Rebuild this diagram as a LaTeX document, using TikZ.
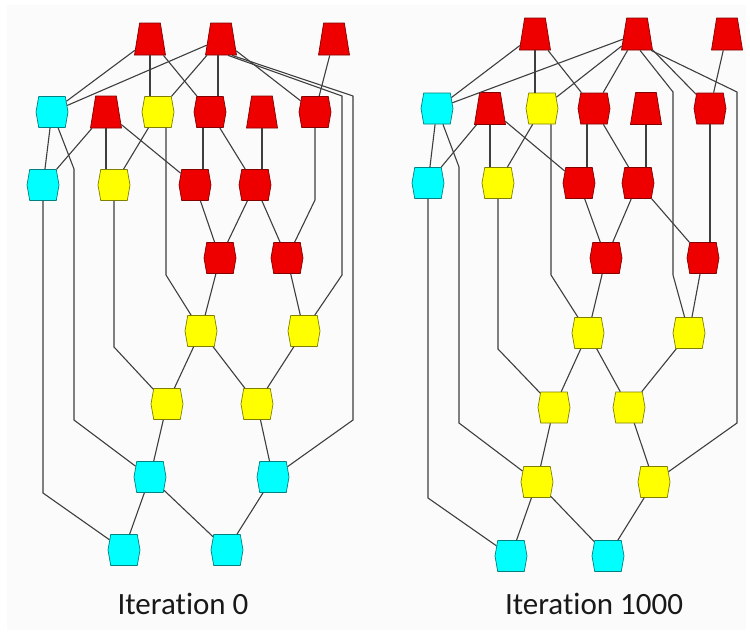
\documentclass[tikz,border=0pt]{standalone}
\usepackage{fontspec}
\setmainfont[Ligatures=NoCommon]{Carlito}
\usetikzlibrary{shapes.geometric,shapes.symbols}
\definecolor{nodered}{RGB}{238,0,0}
\definecolor{nodeyellow}{RGB}{255,255,0}
\definecolor{nodecyan}{RGB}{0,255,255}
\definecolor{linegray}{RGB}{62,62,62}
\definecolor{panelwhite}{RGB}{250,251,250}

\begin{document}
\begin{tikzpicture}[x=1pt,y=-1pt,
                    link/.style={draw=linegray,line width=1.1pt},
                    every edge/.style={link}]
  \tikzstyle{trap}=[trapezium,trapezium angle=76,trapezium stretches=true,
                    minimum width=31pt,minimum height=32pt,inner sep=1pt,
                    line width=0.7pt,fill=nodered,draw=nodered!55!black]
  \tikzstyle{hexa}=[signal,signal to=west and east,signal pointer angle=160,
                    minimum width=32pt,minimum height=31pt,inner sep=1pt,line width=0.7pt]
  \tikzstyle{red hex}=[hexa,fill=nodered,draw=nodered!55!black]
  \tikzstyle{yellow hex}=[hexa,fill=nodeyellow,draw=nodeyellow!50!black]
  \tikzstyle{cyan hex}=[hexa,fill=nodecyan,draw=nodecyan!50!black]
  \tikzstyle{caption}=[font=\fontsize{31}{36}\selectfont,text={rgb,255:red,25;green,25;blue,25},anchor=base]

  \useasboundingbox (0,0) rectangle (750,632);
  \fill[panelwhite] (7,5) rectangle (746,630);

  % Iteration 0
  \node[trap]       (lT1) at (150,39)  {};
  \node[trap]       (lT2) at (221,39)  {};
  \node[trap]       (lT3) at (334,39)  {};
  \node[cyan hex]   (lC1) at (52,112)  {};
  \node[trap]       (lT4) at (106,112) {};
  \node[yellow hex] (lY1) at (158,112) {};
  \node[red hex]    (lR1) at (210,112) {};
  \node[trap]       (lT5) at (262,112) {};
  \node[red hex]    (lR2) at (315,112) {};
  \node[cyan hex]   (lC2) at (43,185)  {};
  \node[yellow hex] (lY2) at (114,185) {};
  \node[red hex]    (lR3) at (195,185) {};
  \node[red hex]    (lR4) at (255,185) {};
  \node[red hex]    (lR5) at (220,258) {};
  \node[red hex]    (lR6) at (287,258) {};
  \node[yellow hex] (lY3) at (201,331) {};
  \node[yellow hex] (lY4) at (304,331) {};
  \node[yellow hex] (lY5) at (167,404) {};
  \node[yellow hex] (lY6) at (257,404) {};
  \node[cyan hex]   (lC3) at (150,477) {};
  \node[cyan hex]   (lC4) at (273,477) {};
  \node[cyan hex]   (lC5) at (124,550) {};
  \node[cyan hex]   (lC6) at (227,550) {};
  \node[caption]    (lCap) at (183,614) {Iteration 0};

  \path (lT1) edge (lC1) edge (lR1)
        (lT2) edge (lC1) edge (lY1) edge (lR2)
        (lT3) edge (lR2)
        (lC1) edge (lC2)
        (lT4) edge (lC2) edge (lR3)
        (lY1) edge (lY2)
        (lR1) edge (lR4)
        (lR3) edge (lR5)
        (lR4) edge (lR5) edge (lR6)
        (lR5) edge (lY3)
        (lR6) edge (lY4)
        (lY3) edge (lY5) edge (lY6)
        (lY4) edge (lY6)
        (lY5) edge (lC3)
        (lY6) edge (lC4)
        (lC3) edge (lC5) edge (lC6)
        (lC4) edge (lC6);
  \draw[link] (lT1) -- (lT1 |- lY1.north);
  \draw[link] ([xshift=-3pt]lT2.south) -- ([xshift=8pt]lR1.north);
  \draw[link] (lT4) -- (lT4 |- lY2.north);
  \draw[link] ([xshift=-7pt]lR1.south) -- ([xshift=8pt]lR3.north);
  \draw[link] (lT5) -- (lT5 |- lR4.north);
  \draw[link] ([xshift=7pt]lT2.south) -- (342,96) -- (342,275) -- (lY4);
  \draw[link] ([xshift=11pt]lT2.south) -- (353,96) -- (353,420) -- (lC4);
  \draw[link] (lC1) -- (74,169) -- (74,420) -- (lC3);
  \draw[link] ([xshift=8pt]lY1.south) -- (166,275) -- (lY3);
  \draw[link] (lY2) -- (114,347) -- (lY5);
  \draw[link] (lC2) -- (43,493) -- (lC5);
  \draw[link] (lR2) -- (315,200) -- (lR6);

  % Iteration 1000
  \node[trap]       (rT1) at (535,34)    {};
  \node[trap]       (rT2) at (637,34)    {};
  \node[trap]       (rT3) at (727,34)    {};
  \node[cyan hex]   (rC1) at (437,108.5) {};
  \node[trap]       (rT4) at (490,108.5) {};
  \node[yellow hex] (rY1) at (542,108.5) {};
  \node[red hex]    (rR1) at (594,108.5) {};
  \node[trap]       (rT5) at (646,108.5) {};
  \node[red hex]    (rR2) at (710,108.5) {};
  \node[cyan hex]   (rC2) at (428,183)   {};
  \node[yellow hex] (rY2) at (498,183)   {};
  \node[red hex]    (rR3) at (579,183)   {};
  \node[red hex]    (rR4) at (638,183)   {};
  \node[red hex]    (rR5) at (606,258)   {};
  \node[red hex]    (rR6) at (703,258)   {};
  \node[yellow hex] (rY3) at (588,333)   {};
  \node[yellow hex] (rY4) at (689,333)   {};
  \node[yellow hex] (rY5) at (554,407.5) {};
  \node[yellow hex] (rY6) at (629,407.5) {};
  \node[yellow hex] (rY7) at (537,482)   {};
  \node[yellow hex] (rY8) at (654,482)   {};
  \node[cyan hex]   (rC5) at (511,556)   {};
  \node[cyan hex]   (rC6) at (608,556)   {};
  \node[caption]    (rCap) at (594,614) {Iteration 1000};

  \path (rT1) edge (rC1) edge (rR1)
        (rT2) edge (rC1) edge (rY1) edge (rR1) edge (rR2)
        (rT3) edge (rR2)
        (rC1) edge (rC2)
        (rT4) edge (rC2) edge (rR3)
        (rY1) edge (rY2)
        (rR1) edge (rR4)
        (rR3) edge (rR5)
        (rR4) edge (rR5) edge (rR6)
        (rR5) edge (rY3)
        (rR6) edge (rY4)
        (rY3) edge (rY5) edge (rY6)
        (rY4) edge (rY6)
        (rY5) edge (rY7)
        (rY6) edge (rY8)
        (rY7) edge (rC5) edge (rC6)
        (rY8) edge (rC6);
  \draw[link] (rT1) -- (rT1 |- rY1.north);
  \draw[link] (rT4) -- (rT4 |- rY2.north);
  \draw[link] ([xshift=-7pt]rR1.south) -- ([xshift=8pt]rR3.north);
  \draw[link] (rT5) -- (rT5 |- rR4.north);
  \draw[link] (rR2) -- (rR2 |- rR6.north);
  \draw[link] ([xshift=3pt]rT2.south) -- (673,92) -- (673,275) -- (rY4);
  \draw[link] ([xshift=14pt]rT2.south) -- (737,92) -- (737,423) -- (rY8);
  \draw[link] (rC1) -- (459,167) -- (459,423) -- (rY7);
  \draw[link] ([xshift=9pt]rY1.south) -- (551,275) -- (rY3);
  \draw[link] (rY2) -- (498,349) -- (rY5);
  \draw[link] (rC2) -- (428,498) -- (rC5);
\end{tikzpicture}
\end{document}
